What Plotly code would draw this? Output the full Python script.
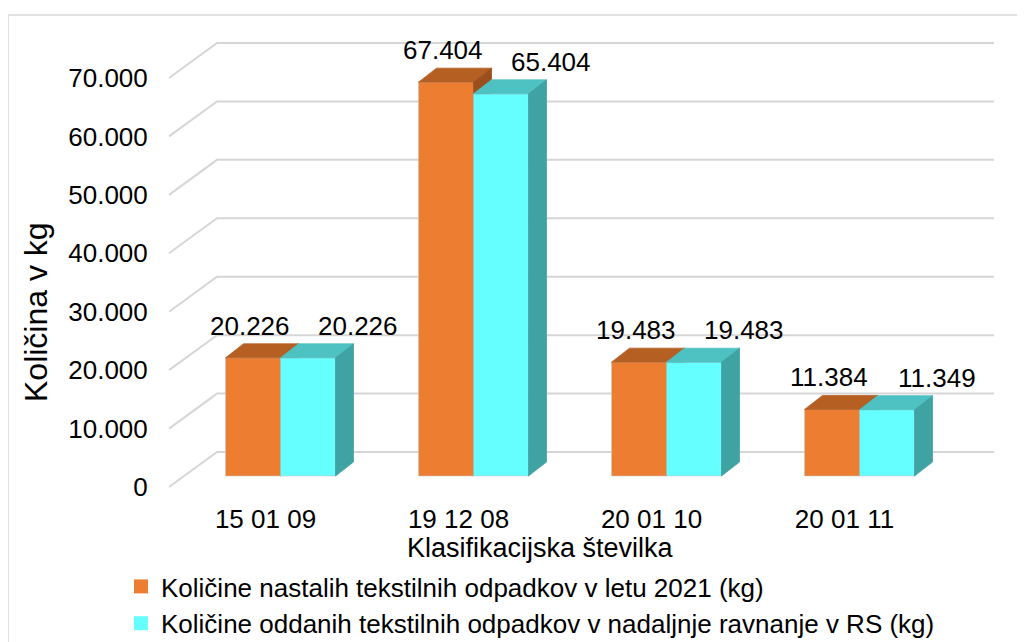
import plotly.graph_objects as go

# podatki
kategorije = ["15 01 09", "19 12 08", "20 01 10", "20 01 11"]
nastali = [20226, 67404, 19483, 11384]
oddani = [20226, 65404, 19483, 11349]
y_ticks = [0, 10000, 20000, 30000, 40000, 50000, 60000, 70000]

ime_nastali = "Količine nastalih tekstilnih odpadkov v letu 2021 (kg)"
ime_oddani = "Količine oddanih tekstilnih odpadkov v nadaljnje ravnanje v RS (kg)"

FONT = "Arial, Liberation Sans, sans-serif"

# geometrija (piksli; stran ima 8 px roba)
OFF = 8
W, H = 1025, 642
L = 164 - OFF
T = 20 - OFF
R = W - (994 - OFF)
B = H - (492 - OFF)
PX_KAT = 193.0            # px na kategorijo
PX_KG = 409.0 / 70000     # px na kg


def dx(px):
    return px / PX_KAT


def dy(px):
    return px / PX_KG


x_min = -0.5 - dx(5)
x_max = x_min + (W - L - R) / PX_KAT
y_min = -dy(5)
y_max = y_min + (H - T - B) / PX_KG

# globina: zadnja stena, ravnina stolpcev, globina stolpca
STENA = (dx(48), dy(35))
RAVNINA = (dx(15), dy(11))
GLOBINA = (dx(18), dy(14))
SIRINA = dx(55)

barve = {
    "nastali": ("#ED7D31", "#B65F23", "#9A4F1D"),
    "oddani": ("#66FFFF", "#4EC2C2", "#40A3A3"),
}
zamik_oznak = {"nastali": -3, "oddani": 50}


def fmt(v):
    return f"{v:,}".replace(",", ".")


fig = go.Figure()

# mreža na zadnji steni + diagonale na levi steni
gx, gy = [], []
for t in y_ticks:
    gx += [x_min + dx(5), x_min + dx(5) + STENA[0], x_max, None]
    gy += [t, t + STENA[1], t + STENA[1], None]
fig.add_trace(go.Scatter(x=gx, y=gy, mode="lines",
                         line=dict(color="#D6D6D6", width=2),
                         hoverinfo="skip", showlegend=False))


def poligon(xs, ys, barva, rob):
    fig.add_trace(go.Scatter(
        x=xs + [xs[0]], y=ys + [ys[0]], mode="lines", fill="toself",
        fillcolor=barva, line=dict(color=rob, width=0.8),
        hoverinfo="skip", showlegend=False))


anotacije = []
for i, kat in enumerate(kategorije):
    for k, (serija, vrednosti) in enumerate([("nastali", nastali), ("oddani", oddani)]):
        v = vrednosti[i]
        spredaj, zgoraj, stran = barve[serija]
        xl = i + RAVNINA[0] - SIRINA + k * SIRINA
        xr = xl + SIRINA
        b = RAVNINA[1]
        t = b + v
        gdx, gdy = GLOBINA
        poligon([xl, xr, xr, xl], [b, b, t, t], spredaj, "rgba(200,200,200,0.7)")
        poligon([xl, xr, xr + gdx, xl + gdx], [t, t, t + gdy, t + gdy], zgoraj, zgoraj)
        poligon([xr, xr + gdx, xr + gdx, xr], [b, b + gdy, t + gdy, t], stran, stran)
        anotacije.append(dict(
            x=(xl + xr) / 2, y=t, xref="x", yref="y",
            text=fmt(v), showarrow=False, xanchor="center", yanchor="middle",
            xshift=zamik_oznak[serija], yshift=32,
            font=dict(size=26, color="black", family=FONT)))

# legenda
fig.add_trace(go.Scatter(x=[None], y=[None], mode="markers", name=ime_nastali,
                         marker=dict(symbol="square", size=14, color=barve["nastali"][0])))
fig.add_trace(go.Scatter(x=[None], y=[None], mode="markers", name=ime_oddani,
                         marker=dict(symbol="square", size=14, color=barve["oddani"][0])))

pw = W - L - R
ph = H - T - B


def px_x(p):
    return (p - OFF - L) / pw


def px_y(p):
    return (H - B - (p - OFF)) / ph


anotacije.append(dict(
    x=px_x(540), y=px_y(548), xref="paper", yref="paper",
    xanchor="center", yanchor="middle",
    text="Klasifikacijska številka", showarrow=False,
    font=dict(size=27, color="black", family=FONT)))
anotacije.append(dict(
    x=px_x(36), y=px_y(312), xref="paper", yref="paper",
    xanchor="center", yanchor="middle",
    text="Količina v kg", showarrow=False, textangle=-90,
    font=dict(size=32, color="black", family=FONT)))

fig.update_layout(
    width=W, height=H,
    margin=dict(l=L, r=R, t=T, b=B, pad=0, autoexpand=False),
    paper_bgcolor="white", plot_bgcolor="white",
    separators=",.",
    font=dict(family=FONT, size=26, color="black"),
    annotations=anotacije,
    showlegend=True,
    legend=dict(x=px_x(121), y=px_y(563), xanchor="left", yanchor="top",
                font=dict(size=26, color="black", family=FONT),
                bgcolor="rgba(0,0,0,0)", tracegroupgap=0),
    shapes=[dict(type="rect", xref="paper", yref="paper",
                 x0=px_x(8), x1=px_x(1100), y0=px_y(700), y1=px_y(15),
                 line=dict(color="#D9D9D9", width=1.5), layer="below")],
    xaxis=dict(range=[x_min, x_max], tickvals=list(range(len(kategorije))),
               ticktext=kategorije, showgrid=False, zeroline=False,
               showline=False, ticks="outside", ticklen=4,
               tickcolor="rgba(0,0,0,0)", tickfont=dict(size=26)),
    yaxis=dict(range=[y_min, y_max], tickvals=y_ticks, tickformat=",d",
               showgrid=False, zeroline=False, showline=False,
               ticks="outside", ticklen=10, tickcolor="rgba(0,0,0,0)",
               tickfont=dict(size=26)),
)

fig.write_html("out.html")
